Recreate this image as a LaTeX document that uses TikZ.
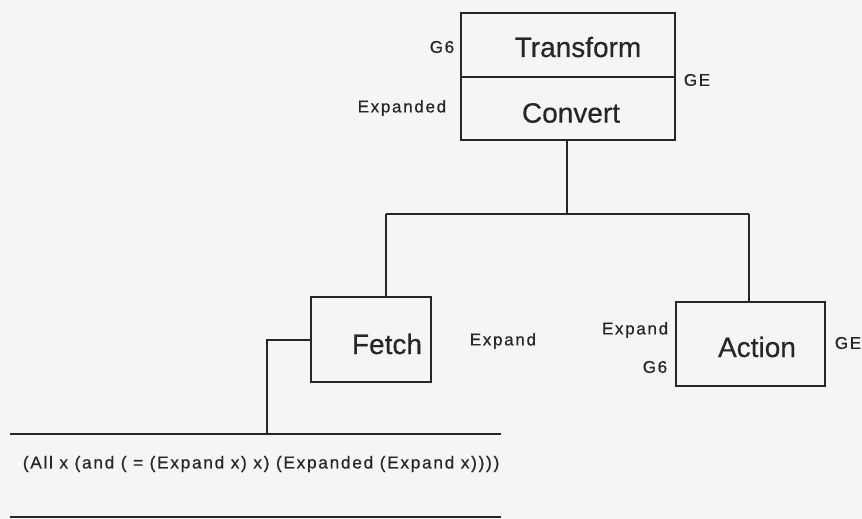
\documentclass[tikz,border=0pt]{standalone}
\usepackage{fontspec}
\setmainfont{Liberation Sans}
\newfontfamily\lblfont[LetterSpace=10,FakeBold=0.6]{Liberation Sans}
\newfontfamily\bigfont[FakeBold=0.4]{Liberation Sans}
\begin{document}
\begin{tikzpicture}[x=1pt,y=-1pt,
  line width=1.7pt,
  boxline/.style={draw=black!85, line width=1.7pt},
  wire/.style={draw=black!85, line width=1.7pt},
  big/.style={font=\bigfont\fontsize{28}{32}\selectfont, text=black!85, inner sep=0pt},
  lbl/.style={font=\lblfont\fontsize{17}{20}\selectfont, text=black!85, inner sep=0pt},
  formula/.style={font=\lblfont\fontsize{17.25}{20}\selectfont, text=black!85, inner sep=0pt}]
\useasboundingbox[fill=black!4] (0,0) rectangle (862,519);
% top box
\node[boxline, minimum width=214pt, minimum height=64pt, inner sep=0pt] (tr) at (568,45) {};
\node[boxline, minimum width=214pt, minimum height=63pt, inner sep=0pt] (cv) at (568,108.5) {};
\node[big] (trt) at (578,47) {Transform};
\node[big] (cvt) at (571,113) {Convert};
\node[lbl, anchor=east] (g6a) at (455,47) {G6};
\node[lbl, anchor=east] (exd) at (447,108) {Expanded};
\node[lbl, anchor=west] (gea) at (683,80) {GE};
% Fetch
\node[boxline, minimum width=120pt, minimum height=85pt, inner sep=0pt] (fe) at (371,339.5) {};
\node[big] (fet) at (387,344) {Fetch};
\node[lbl, anchor=west] (exa) at (469,341) {Expand};
% Action
\node[boxline, minimum width=149pt, minimum height=84pt, inner sep=0pt] (ac) at (750.5,344) {};
\node[big] (act) at (757,347) {Action};
\node[lbl, anchor=east] (exb) at (669,330) {Expand};
\node[lbl, anchor=east] (g6b) at (668,367) {G6};
\node[lbl, anchor=west] (geb) at (834,343) {GE};
% tree connectors
\coordinate (j) at (567,214);
\draw[wire] (cv.south -| j) -- (j);
\draw[wire] (386,214) -- (749,214);
\draw[wire] (386,214) -- (386,297);
\draw[wire] (749,214) -- (749,302);
% fetch to formula
\coordinate (k) at (267,434);
\draw[wire] (fe.west |- 0,340) -- (267,340) -- (k);
\coordinate (l1a) at (10,434);
\coordinate (l1b) at (501,434);
\draw[wire] (l1a) -- (l1b);
\node[formula, anchor=west] (form) at (22,464) {(All x (and ( =  (Expand x) x) (Expanded (Expand x))))};
\coordinate (l2a) at (10,517);
\coordinate (l2b) at (501,517);
\draw[wire] (l2a) -- (l2b);
\end{tikzpicture}
\end{document}
